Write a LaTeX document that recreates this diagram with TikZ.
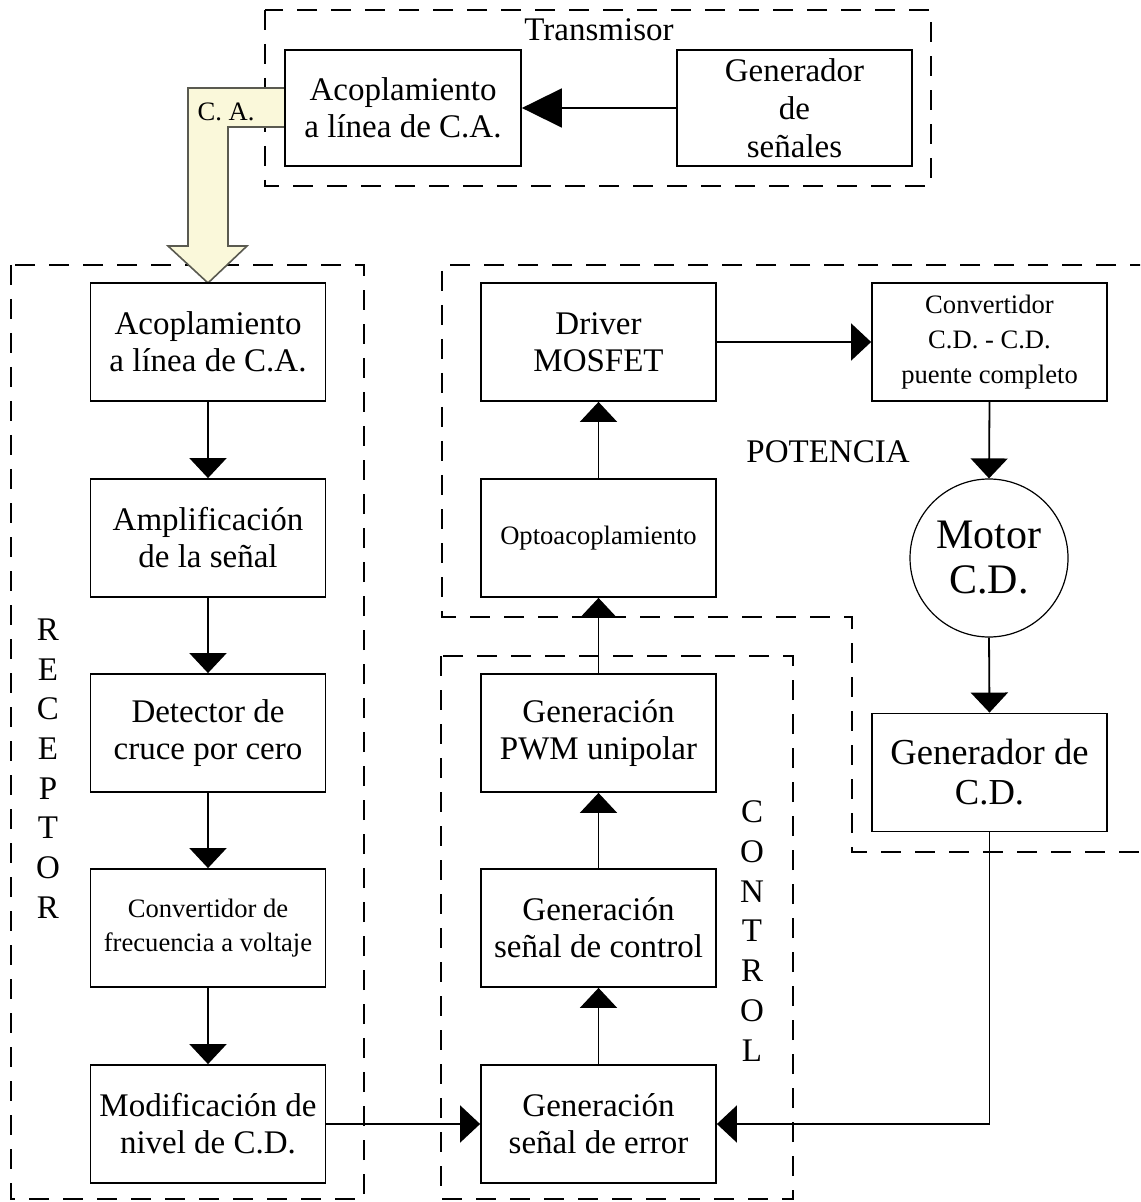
\documentclass[tikz,border=0pt]{standalone}
\usepackage{fontspec}
\setmainfont{Liberation Serif}
\usetikzlibrary{arrows.meta}
\definecolor{cacream}{RGB}{250,248,218}
\definecolor{caedge}{RGB}{90,90,80}
\tikzset{
  blk/.style={draw, line width=0.9pt, minimum width=117.5pt, minimum height=59pt, align=center, inner sep=0pt,
    font=\fontsize{16.5}{18.5}\selectfont},
  smalltxt/.style={font=\fontsize{13.3}{17.4}\selectfont},
  flow/.style={line width=0.9pt, -{Triangle[length=10pt,width=18.5pt]}},
  bigflow/.style={line width=0.9pt, -{Triangle[length=20pt,width=19.5pt]}},
  region/.style={line width=0.8pt, dash pattern=on 10pt off 7pt},
  lbl/.style={font=\fontsize{16.5}{18.5}\selectfont, inner sep=0pt},
}
\begin{document}
\begin{tikzpicture}[x=0.5pt,y=-0.5pt]
\useasboundingbox (0,0) rectangle (1140,1202);
\clip (0,0) rectangle (1140,1202);
\fill[white] (0,0) rectangle (1140,1202);

% dashed regions
\draw[region] (265,10) rectangle (931,186);
\draw[region] (11,265) rectangle (364,1199);
\draw[region] (1150,265) -- (442,265) -- (442,617) -- (852,617) -- (852,852) -- (1150,852);
\draw[region] (441,656) rectangle (793,1199);

% region labels
\node[lbl] (ttx) at (599,30) {Transmisor};
\node[lbl] (tpot) at (828,452) {POTENCIA};
\foreach \ch [count=\i from 0] in {R,E,C,E,P,T,O,R}
  \node[lbl] (rec\i) at (48,{630+39.6*\i}) {\ch};
\foreach \ch [count=\i from 0] in {C,O,N,T,R,O,L}
  \node[lbl] (ctl\i) at (752,{812+39.7*\i}) {\ch};

% C.A. hollow arrow
\draw[fill=cacream, draw=caedge, line width=0.8pt]
  (286,88) -- (188,88) -- (188,246) -- (168,246) -- (208,283) -- (247,246) -- (228,246) -- (228,127) -- (286,127);
\node[inner sep=0pt, font=\fontsize{13.3}{15}\selectfont] (calbl) at (226,112) {C. A.};

% transmitter
\node[blk, fill=white, minimum width=118pt, minimum height=58pt] (txa) at (403,108) {Acoplamiento\\a línea de C.A.};
\node[blk, minimum width=117.5pt, minimum height=58pt, font=\fontsize{16.5}{19}\selectfont] (gsen) at (794.5,108) {Generador\\de\\señales};

% receptor chain
\node[blk] (r1) at (208,342) {Acoplamiento\\a línea de C.A.};
\node[blk] (r2) at (208,538) {Amplificación\\de la señal};
\node[blk] (r3) at (208,733) {Detector de\\cruce por cero};
\node[blk, smalltxt] (r4) at (208,928) {Convertidor de\\frecuencia a voltaje};
\node[blk] (r5) at (208,1124) {Modificación de\\nivel de C.D.};

% control chain
\node[blk] (err) at (598.5,1124) {Generación\\señal de error};
\node[blk] (ctl) at (598.5,928) {Generación\\señal de control};
\node[blk] (pwm) at (598.5,733) {Generación\\PWM unipolar};

% potencia
\node[blk, smalltxt] (opto) at (598.5,538) {Optoacoplamiento};
\node[blk] (drv) at (598.5,342) {Driver\\MOSFET};
\node[blk, smalltxt] (conv) at (989.5,342) {Convertidor\\C.D. - C.D.\\puente completo};
\node[draw, circle, line width=0.6pt, minimum size=79pt, inner sep=0pt, align=center,
  font=\fontsize{21}{22.5}\selectfont] (mot) at (989,558) {Motor\\C.D.};
\node[blk, font=\fontsize{18.3}{20}\selectfont] (gcd) at (989.5,772.5) {Generador de\\C.D.};

% connectors
\draw[bigflow] (gsen.west) -- (txa.east);
\draw[flow] (r1.south) -- (r2.north);
\draw[flow] (r2.south) -- (r3.north);
\draw[flow] (r3.south) -- (r4.north);
\draw[flow] (r4.south) -- (r5.north);
\draw[flow] (r5.east) -- (err.west);
\draw[flow] (err.north) -- (ctl.south);
\draw[flow] (ctl.north) -- (pwm.south);
\draw[flow] (pwm.north) -- (opto.south);
\draw[flow] (opto.north) -- (drv.south);
\draw[flow] (drv.east) -- (conv.west);
\draw[flow] (conv.south) -- (mot.north);
\draw[flow] (mot.south) -- (gcd.north);
\draw[flow] (gcd.south) |- (err.east);
\end{tikzpicture}
\end{document}
